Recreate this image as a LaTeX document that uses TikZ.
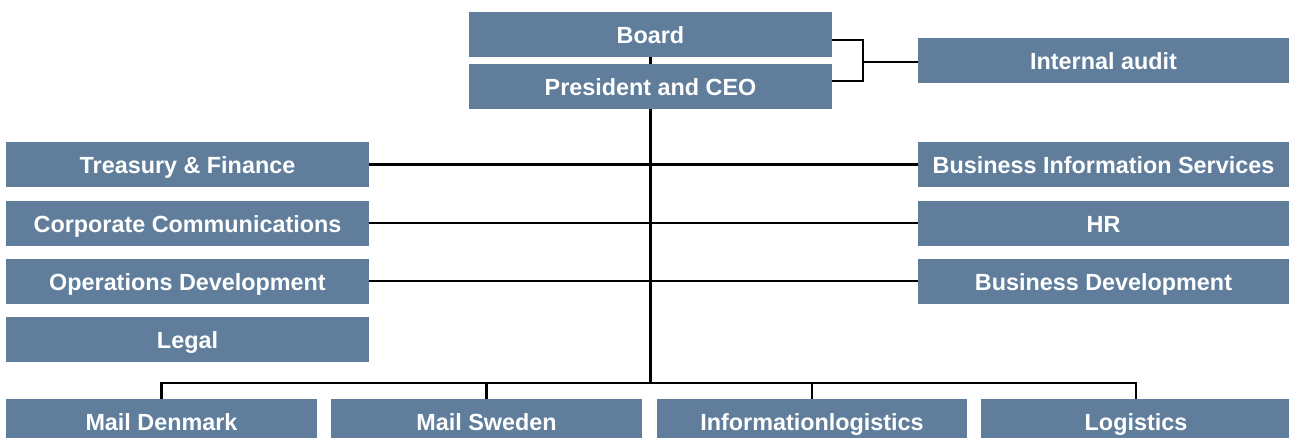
\documentclass[tikz,border=0pt]{standalone}
\usepackage{fontspec}
\setmainfont{Liberation Sans}
\definecolor{boxblue}{RGB}{96,126,156}
\tikzset{
  unit/.style={fill=boxblue, text=white, font=\bfseries\fontsize{13.3}{15}\selectfont,
    minimum height=.9cm, inner sep=0pt, text height=10.8pt, text depth=0pt},
  link/.style={draw=black, line width=1.3pt}
}
\begin{document}
\begin{tikzpicture}[x=.02cm,y=-.02cm]
    \useasboundingbox (0,0) rectangle (1289,437);

    \node[unit,minimum width=7.26cm] (board) at (650.5,34.5) {Board};
    \node[unit,minimum width=7.26cm] (ceo) at (650.5,86.5) {President and CEO};
    \node[unit,minimum width=7.42cm] (audit) at (1103.5,60.5) {Internal audit};

    % staff functions
    \foreach \name/\y/\txt in {treas/164.5/Treasury \& Finance,comm/223/Corporate Communications,ops/281/Operations Development,legal/339/Legal}
      \node[unit,minimum width=7.26cm] (\name) at (187.5,\y) {\txt};
    \foreach \name/\y/\txt in {bis/164.5/Business Information Services,hr/223/HR,bdev/281/Business Development}
      \node[unit,minimum width=7.42cm] (\name) at (1103.5,\y) {\txt};

    % business areas
    \foreach \name/\x/\txt in {mden/161.5/Mail Denmark,mswe/486.5/Mail Sweden,info/812/Informationlogistics,logi/1136/Logistics}
      \node[unit,minimum width=6.22cm] (\name) at (\x,421.5) {\txt};

    \coordinate (bus) at (650.5,383);
    \coordinate (fork) at (863,62);

    \draw[link] (board.south) -- (ceo.north);
    \draw[link] (ceo.south) -- (bus);
    \draw[link] ([yshift=-.11cm]board.east) -| (fork) |- ([yshift=.11cm]ceo.east);
    \draw[link] (fork) -- (audit.west |- fork);

    \foreach \l/\r in {treas/bis,comm/hr,ops/bdev}
      \draw[link] (\l.east) -- (\r.west);

    \draw[link] (mden.north) |- (bus) -| (logi.north);
    \foreach \u in {mswe,info}
      \draw[link] (\u.north) -- (\u.north |- bus);
\end{tikzpicture}
\end{document}
